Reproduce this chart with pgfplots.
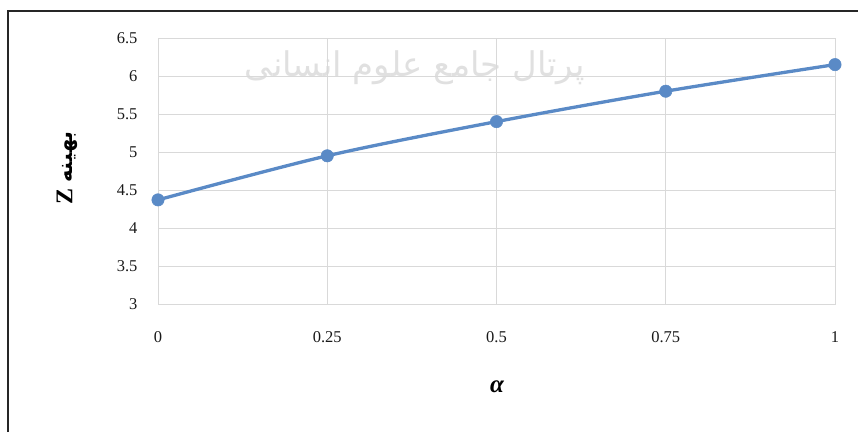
\documentclass[border=0pt]{standalone}
\usepackage{pgfplots}
\pgfplotsset{compat=1.18}
\usepackage{fontspec}
\setmainfont{Liberation Serif}
\newfontfamily\arabicfont[Script=Arabic]{DejaVu Sans}
\TeXXeTstate=1
\definecolor{lineblue}{HTML}{5A8AC6}
\definecolor{gridgray}{HTML}{D9D9D9}
\pgfplotstableread{
x y
0 4.37
0.25 4.95
0.5 5.40
0.75 5.80
1 6.15
}\datatable
\begin{document}
\begin{tikzpicture}[x=1pt,y=1pt]
\useasboundingbox (0,0) rectangle (858,432);
% frame
\draw[line width=2.2pt,black!85] (8,0) -- (8,421) -- (858,421);
% watermark
\node[text=black!12,font=\fontsize{34}{34}\selectfont] at (415,364) {\arabicfont\beginR پرتال جامع علوم انسانی\endR};
\begin{axis}[
  at={(158pt,128pt)}, anchor=south west,
  scale only axis, width=677pt, height=266pt,
  xmin=0, xmax=1, ymin=3, ymax=6.5,
  xtick={0,0.25,0.5,0.75,1},
  xticklabels={0,0.25,0.5,0.75,1},
  ytick={3,3.5,4,4.5,5,5.5,6,6.5},
  yticklabels={3,3.5,4,4.5,5,5.5,6,6.5},
  major tick length=0pt,
  grid=major,
  grid style={gridgray, line width=1pt},
  axis line style={gridgray, line width=1pt},
  tick label style={font=\fontsize{16.5}{16.5}\selectfont, text=black!90},
  xticklabel style={yshift=-24pt},
  yticklabel style={xshift=-17pt},
  clip=false,
]
\addplot[lineblue, line width=3.3pt, smooth, mark=*, mark size=6.2pt, mark options={fill=lineblue, draw=lineblue, line width=0.5pt}] table[x=x,y=y] {\datatable};
\end{axis}
\node[font=\fontsize{25}{25}\selectfont\bfseries\itshape] at (497,45) {α};
\node[rotate=90, font=\fontsize{24}{24}\selectfont\bfseries] at (67,264) {Z {\arabicfont\fontsize{21}{21}\selectfont\bfseries\beginR بهینه\endR}};
\end{tikzpicture}
\end{document}
